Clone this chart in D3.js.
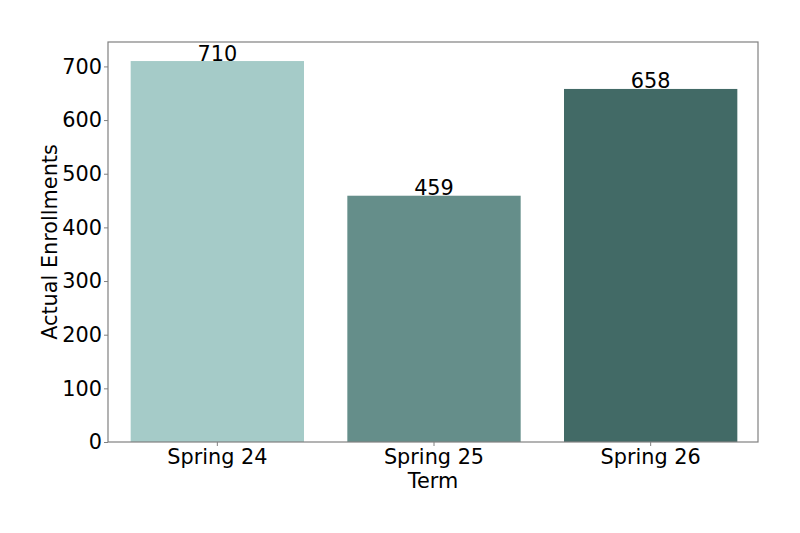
<!DOCTYPE html>
<html><head><meta charset="utf-8">
<script src="https://cdn.jsdelivr.net/npm/d3@7"></script>
<style>body{margin:0;background:#fff}svg{display:block}</style>
</head><body><div id="chart"></div>
<script>
const categories = ["Spring 24", "Spring 25", "Spring 26"];
const values = [710, 459, 658];
const colors = ["#a5cbc8", "#658e8a", "#426a66"];
const yTicks = [0, 100, 200, 300, 400, 500, 600, 700];

const W = 800, H = 533;
const m = {left: 108, right: 42, top: 42, bottom: 91};
const svg = d3.select("#chart").append("svg").attr("width", W).attr("height", H);
const font = "DejaVu Sans, sans-serif";
const fs = 20.8;

const x = d3.scaleBand().domain(categories).range([m.left, W - m.right]).paddingInner(0.2).paddingOuter(0.1);
const y = d3.scaleLinear().domain([0, d3.max(values) * 1.05]).range([H - m.bottom, m.top]);

svg.selectAll("rect.bar").data(values).join("rect").attr("class", "bar")
  .attr("x", (d, i) => x(categories[i]) + 1).attr("width", x.bandwidth())
  .attr("y", d => y(d)).attr("height", d => y(0) - y(d))
  .attr("fill", (d, i) => colors[i]);

svg.selectAll("text.val").data(values).join("text").attr("class", "val")
  .attr("x", (d, i) => x(categories[i]) + 1 + x.bandwidth() / 2)
  .attr("y", d => y(d) - 0.5)
  .attr("text-anchor", "middle").attr("font-family", font).attr("font-size", fs)
  .attr("fill", "#000").text(d => d);

const gy = svg.append("g").attr("transform", `translate(${m.left},0)`)
  .call(d3.axisLeft(y).tickValues(yTicks).tickSize(4).tickPadding(2));
const gx = svg.append("g").attr("transform", `translate(1,${H - m.bottom})`)
  .call(d3.axisBottom(x).tickSize(4).tickPadding(3));
[gx, gy].forEach(g => {
  g.select(".domain").remove();
  g.selectAll(".tick line").attr("stroke", "#808080");
  g.selectAll(".tick text").attr("font-family", font).attr("font-size", fs).attr("fill", "#000");
});

svg.append("rect").attr("x", m.left).attr("y", m.top)
  .attr("width", W - m.left - m.right).attr("height", H - m.top - m.bottom)
  .attr("fill", "none").attr("stroke", "#808080").attr("stroke-width", 1.2);

svg.append("text").attr("x", (m.left + W - m.right) / 2).attr("y", 488)
  .attr("text-anchor", "middle").attr("font-family", font).attr("font-size", fs).text("Term");
svg.append("text").attr("transform", `translate(57,${(m.top + H - m.bottom) / 2}) rotate(-90)`)
  .attr("text-anchor", "middle").attr("font-family", font).attr("font-size", fs).text("Actual Enrollments");
</script></body></html>
